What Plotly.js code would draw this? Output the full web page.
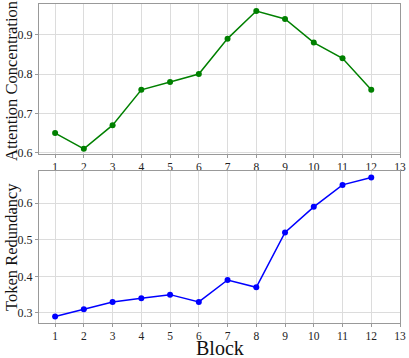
<!DOCTYPE html>
<html>
<head>
<meta charset="utf-8">
<script src="https://cdn.plot.ly/plotly-3.0.1.min.js"></script>
<style>
  html, body { margin: 0; padding: 0; background: #fff; }
  #myDiv { width: 409px; height: 358px; }
</style>
</head>
<body>
<div id="myDiv"></div>
<script>
// block index on x
var blocks = [1, 2, 3, 4, 5, 6, 7, 8, 9, 10, 11, 12];
var xTicks = [1, 2, 3, 4, 5, 6, 7, 8, 9, 10, 11, 12, 13];
var attention = [0.65, 0.61, 0.67, 0.76, 0.78, 0.80, 0.89, 0.96, 0.94, 0.88, 0.84, 0.76];
var redundancy = [0.29, 0.31, 0.33, 0.34, 0.35, 0.33, 0.39, 0.37, 0.52, 0.59, 0.65, 0.67];

var serif = 'Liberation Serif, DejaVu Serif, serif';

var traceAtt = {
  x: blocks,
  y: attention,
  xaxis: 'x',
  yaxis: 'y',
  mode: 'lines+markers',
  type: 'scatter',
  line: { color: 'green', width: 1.5 },
  marker: { color: 'green', size: 6 },
  showlegend: false
};

var traceRed = {
  x: blocks,
  y: redundancy,
  xaxis: 'x2',
  yaxis: 'y2',
  mode: 'lines+markers',
  type: 'scatter',
  line: { color: 'blue', width: 1.5 },
  marker: { color: 'blue', size: 6 },
  showlegend: false
};

function xAxis(anchor) {
  return {
    anchor: anchor,
    domain: [0, 1],
    range: [0.44, 13],
    tickvals: xTicks,
    ticks: 'outside',
    ticklen: 3,
    tickcolor: '#999',
    tickfont: { family: serif, size: 11.5, color: '#222' },
    ticklabelstandoff: -1,
    showgrid: true,
    gridcolor: '#dcdcdc',
    showline: true,
    linecolor: '#999',
    linewidth: 1,
    mirror: true,
    zeroline: false
  };
}

function yAxis(anchor, dom, rng, dtick) {
  return {
    anchor: anchor,
    domain: dom,
    range: rng,
    dtick: dtick,
    tickformat: '.1f',
    ticks: 'outside',
    ticklen: 3,
    tickcolor: '#999',
    tickfont: { family: serif, size: 12, color: '#222' },
    showgrid: true,
    gridcolor: '#dcdcdc',
    showline: true,
    linecolor: '#999',
    linewidth: 1,
    mirror: true,
    zeroline: false
  };
}

// axis titles as annotations so they sit where the original has them
var titleFont = { family: serif, size: 16.5, color: '#111' };

var layout = {
  width: 409,
  height: 358,
  paper_bgcolor: '#fff',
  plot_bgcolor: '#fff',
  margin: { l: 39, r: 9, t: 4, b: 35 },
  xaxis: xAxis('y'),
  yaxis: yAxis('x', [0.53, 1], [0.597, 0.978], 0.1),
  xaxis2: xAxis('y2'),
  yaxis2: yAxis('x2', [0, 0.4765], [0.2725, 0.688], 0.1),
  annotations: [
    {
      text: 'Attention Concentration', textangle: -90,
      xref: 'paper', yref: 'y domain', x: 0, y: 0.5,
      xanchor: 'center', yanchor: 'middle', xshift: -27, yshift: -2,
      showarrow: false, font: titleFont
    },
    {
      text: 'Token Redundancy', textangle: -90,
      xref: 'paper', yref: 'y2 domain', x: 0, y: 0.5,
      xanchor: 'center', yanchor: 'middle', xshift: -27,
      showarrow: false, font: titleFont
    },
    {
      text: 'Block',
      xref: 'paper', yref: 'paper', x: 0.5, y: 0,
      xanchor: 'center', yanchor: 'middle', yshift: -25, borderpad: 0,
      showarrow: false, font: { family: serif, size: 20, color: '#111' }
    }
  ]
};

Plotly.newPlot('myDiv', [traceAtt, traceRed], layout, { displayModeBar: false, staticPlot: true });
</script>
</body>
</html>
